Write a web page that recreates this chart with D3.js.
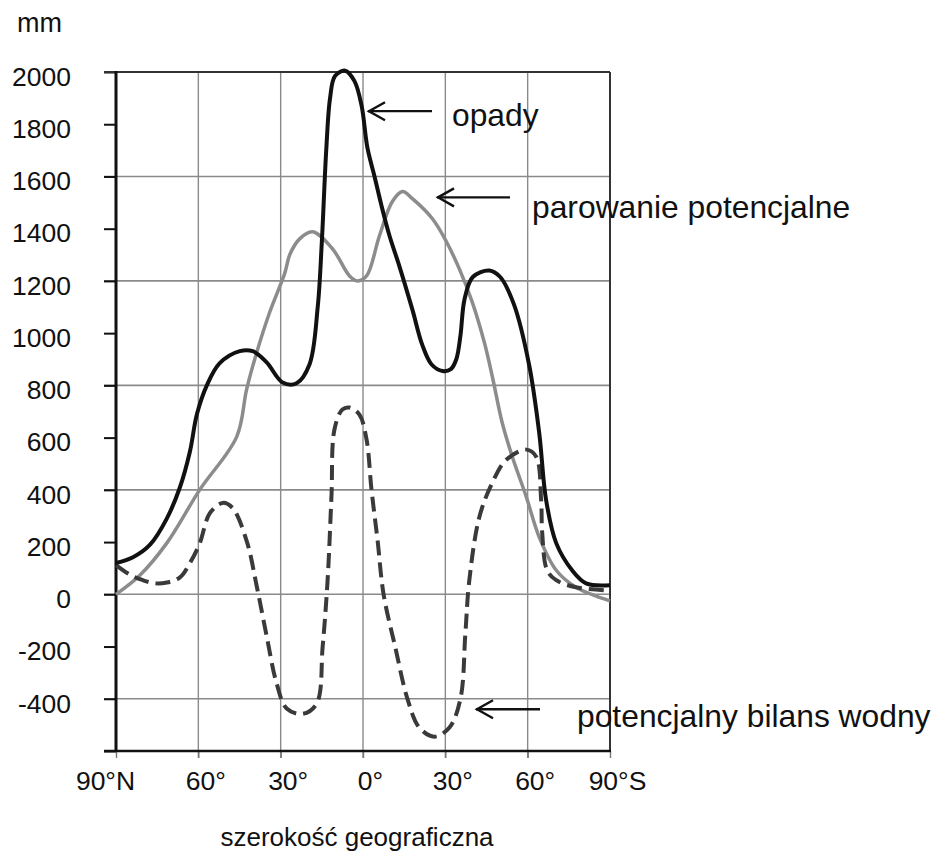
<!DOCTYPE html>
<html>
<head>
<meta charset="utf-8">
<script src="https://cdn.jsdelivr.net/npm/d3@7"></script>
<style>
  html, body { margin: 0; padding: 0; background: #fff; }
  text { font-family: "Liberation Sans", Arial, sans-serif; fill: #111; }
</style>
</head>
<body>
<svg id="chart" width="938" height="854"></svg>
<script>
// ---- data ----
const latTicks = [90, 60, 30, 0, -30, -60, -90];
const latTickLabels = ["90°N", "60°", "30°", "0°", "30°", "60°", "90°S"];
const yTicks = [-600, -400, -200, 0, 200, 400, 600, 800, 1000, 1200, 1400, 1600, 1800, 2000];
const yTickLabels = ["", "-400", "-200", "0", "200", "400", "600", "800", "1000", "1200", "1400", "1600", "1800", "2000"];

// precipitation (opady)
const opadyLat = [90, 83.8, 77.6, 71.5, 66.7, 63.1, 60.5, 56.9, 52.2, 44.9, 40.2, 35.1, 29.3, 24.2, 19.5, 16.5, 15.0, 13.4, 12.0, 10.2, 6.5, 3.1, 0.5, -1.6, -4.2, -6.7, -9.6, -13.3, -18, -21.6, -25, -29, -32, -34, -35.5, -37, -40, -46, -50, -55, -60.5, -64.2, -66.7, -70.4, -76.2, -81.3, -90];
const opadyVal = [120, 142, 190, 290, 410, 545, 690, 800, 885, 931, 931, 888, 811, 808, 880, 1100, 1350, 1700, 1900, 1985, 2005, 1965, 1870, 1710, 1600, 1490, 1375, 1255, 1090, 955, 880, 855, 862, 900, 990, 1130, 1215, 1240, 1215, 1110, 880, 619, 362, 196, 92, 42, 35];

// potential evaporation (parowanie potencjalne)
const parLat = [90, 81.3, 71.5, 59.5, 46.0, 42.4, 38.7, 34.0, 28.5, 26.7, 23.1, 18.4, 11.1, 4.9, 2.0, -1.3, -6.0, -10.7, -14.4, -18.0, -25.3, -30.4, -35.1, -39.8, -44.2, -47.1, -50.7, -54.4, -59.5, -64.2, -70.4, -77.6, -90];
const parVal = [0, 73, 196, 400, 604, 785, 927, 1080, 1230, 1300, 1361, 1388, 1323, 1219, 1200, 1219, 1373, 1504, 1542, 1515, 1438, 1350, 1246, 1119, 965, 835, 658, 527, 373, 219, 92, 27, -25];

// potential water balance (potencjalny bilans wodny)
const bilLat = [90, 84.9, 80.2, 75.8, 71.5, 66.7, 63.1, 59.5, 55.8, 51.1, 47.5, 42.4, 38.7, 35.1, 31.5, 27.8, 22.0, 16.9, 14.7, 12.9, 11.5, 10.4, 7.5, 4.9, 1.3, -1.3, -3.1, -5.3, -7.5, -11.7, -16.2, -20.5, -26, -31.5, -35.5, -37.3, -38.7, -42.4, -47.1, -52.2, -59.5, -63.1, -64.9, -65.3, -67.1, -70.4, -77.6, -89];
const bilVal = [112, 75, 54, 42, 45, 65, 119, 195, 311, 350, 330, 205, 30, -160, -340, -437, -458, -419, -200, 54, 373, 631, 708, 715, 688, 592, 400, 208, 0, -200, -400, -510, -545, -510, -400, -150, 50, 296, 427, 515, 554, 527, 362, 235, 92, 54, 27, 15];

const annotations = ["opady", "parowanie potencjalne", "potencjalny bilans wodny"];
const annotValueAt = [1850, 1520, -440]; // y level of arrows (mm)
const yUnit = "mm";
const xTitle = "szerokość geograficzna";

(function () {
// ---- layout ----
const svg = d3.select("#chart");
const mLeft = 116, mRight = 610, mTop = 72, mBottom = 751;
const x = d3.scaleLinear().domain([90, -90]).range([mLeft, mRight]);
const y = d3.scaleLinear().domain([-600, 2000]).range([mBottom, mTop]);

// horizontal gridlines every 400
const gridY = yTicks.filter(v => v % 400 === 0 && v > -600 && v < 2000);
svg.append("g").selectAll("line").data(gridY).join("line")
  .attr("x1", mLeft - 12).attr("x2", mRight)
  .attr("y1", d => y(d)).attr("y2", d => y(d))
  .attr("stroke", "#8a8a8a").attr("stroke-width", 1.6);

// vertical gridlines
svg.append("g").selectAll("line").data(latTicks.slice(1, -1)).join("line")
  .attr("x1", d => x(d)).attr("x2", d => x(d))
  .attr("y1", mTop).attr("y2", mBottom + 7)
  .attr("stroke", "#8a8a8a").attr("stroke-width", 1.4);

// left axis
const yAxis = d3.axisLeft(y).tickValues(yTicks).tickSize(12)
  .tickFormat((d, i) => yTickLabels[i]);
const gy = svg.append("g").attr("transform", `translate(${mLeft},0)`).call(yAxis);
gy.select(".domain").remove();
gy.selectAll(".tick line").attr("stroke", "#111").attr("stroke-width", 2);
gy.selectAll(".tick text").attr("x", -45).attr("dy", "0.5em")
  .attr("font-size", 26.5).attr("fill", "#111").attr("text-anchor", "end")
  .attr("font-family", "Liberation Sans, Arial, sans-serif");

// bottom axis
const xAxis = d3.axisBottom(x).tickValues(latTicks).tickSize(7)
  .tickFormat((d, i) => latTickLabels[i]);
const gx = svg.append("g").attr("transform", `translate(0,${mBottom})`).call(xAxis);
gx.select(".domain").remove();
gx.selectAll(".tick line").attr("stroke", "#777").attr("stroke-width", 1.4);
gx.selectAll(".tick text").attr("y", 39).attr("dy", 0)
  .attr("dx", (d, i) => i === 0 ? -11 : 7)
  .attr("font-size", 26.5).attr("fill", "#111")
  .attr("font-family", "Liberation Sans, Arial, sans-serif");

// frame
svg.append("line").attr("x1", mLeft - 12).attr("x2", mRight).attr("y1", mTop).attr("y2", mTop)
  .attr("stroke", "#333").attr("stroke-width", 2);
svg.append("line").attr("x1", mRight).attr("x2", mRight).attr("y1", mTop).attr("y2", mBottom)
  .attr("stroke", "#333").attr("stroke-width", 2);
svg.append("line").attr("x1", mLeft - 12).attr("x2", mRight + 1).attr("y1", mBottom).attr("y2", mBottom)
  .attr("stroke", "#111").attr("stroke-width", 2.6);
svg.append("line").attr("x1", mLeft).attr("x2", mLeft).attr("y1", mTop - 1).attr("y2", mBottom + 1)
  .attr("stroke", "#111").attr("stroke-width", 3);

// lines
const line = d3.line().x(d => x(d[0])).y(d => y(d[1])).curve(d3.curveCatmullRom.alpha(0.5));
const zip = (a, b) => a.map((v, i) => [v, b[i]]);

svg.append("path").datum(zip(parLat, parVal)).attr("d", line)
  .attr("fill", "none").attr("stroke", "#8c8c8c").attr("stroke-width", 3.5);
svg.append("path").datum(zip(bilLat, bilVal)).attr("d", line)
  .attr("fill", "none").attr("stroke", "#3a3a3a").attr("stroke-width", 4)
  .attr("stroke-dasharray", "15,7");
svg.append("path").datum(zip(opadyLat, opadyVal)).attr("d", line)
  .attr("fill", "none").attr("stroke", "#111").attr("stroke-width", 4);

// annotations with arrows
const arrows = [
  { x1: 432, x2: 368, tx: 452, ty: 126 },
  { x1: 510, x2: 437, tx: 532, ty: 218 },
  { x1: 540, x2: 476, tx: 577, ty: 727 }
];
const ag = svg.append("g");
arrows.forEach((a, i) => {
  const yy = y(annotValueAt[i]);
  ag.append("line").attr("x1", a.x1).attr("x2", a.x2).attr("y1", yy).attr("y2", yy)
    .attr("stroke", "#111").attr("stroke-width", 2.4);
  ag.append("path")
    .attr("d", `M${a.x2 + 17},${yy - 9} L${a.x2 + 1},${yy} L${a.x2 + 17},${yy + 9}`)
    .attr("fill", "none").attr("stroke", "#111").attr("stroke-width", 2.4);
  ag.append("text").attr("x", a.tx).attr("y", a.ty).attr("font-size", 31.8)
    .text(annotations[i]);
});

// axis labels
svg.append("text").attr("x", 17).attr("y", 32).attr("font-size", 27).text(yUnit);
svg.append("text").attr("x", 357).attr("y", 846).attr("font-size", 26)
  .attr("text-anchor", "middle").text(xTitle);
})();
</script>
</body>
</html>
